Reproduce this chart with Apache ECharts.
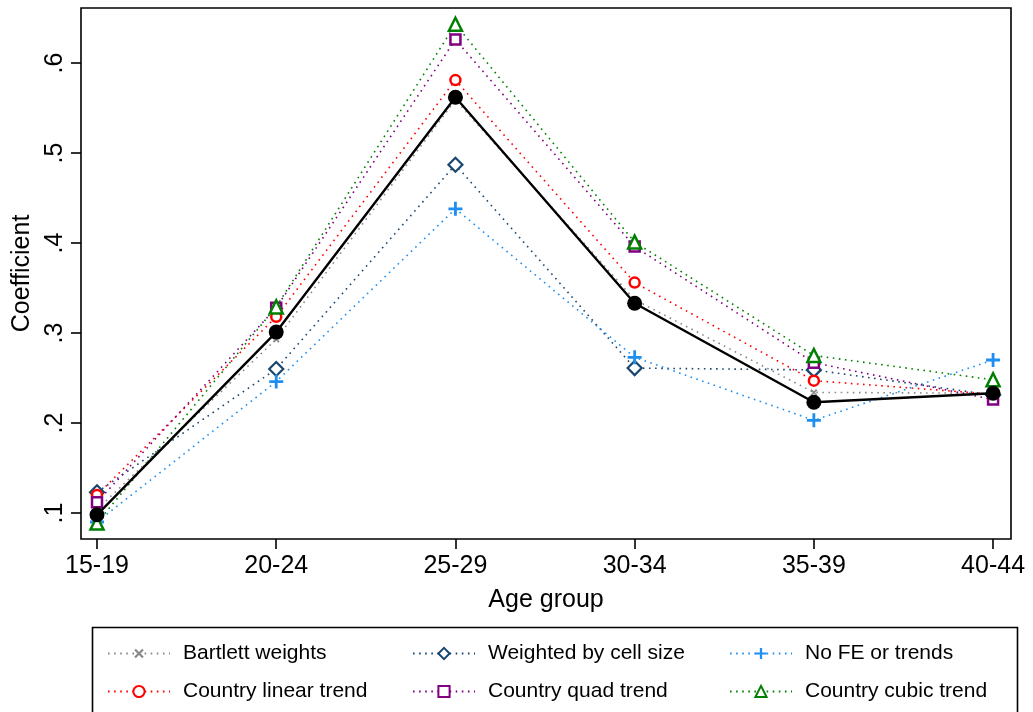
<!DOCTYPE html>
<html>
<head>
<meta charset="utf-8">
<script src="https://cdn.jsdelivr.net/npm/echarts@6/dist/echarts.min.js"></script>
<style>
html,body{margin:0;padding:0;background:#fff;}
#chart{width:1033px;height:712px;}
</style>
</head>
<body>
<div id="chart"></div>
<script>
// ---- data ----
var categories = ['15-19', '20-24', '25-29', '30-34', '35-39', '40-44'];
var yTicks = [0.1, 0.2, 0.3, 0.4, 0.5, 0.6];
var mainSpec     = [0.098, 0.301, 0.562, 0.333, 0.223, 0.233];
var bartlett     = [0.104, 0.293, 0.559, 0.337, 0.234, 0.233];
var weighted     = [0.123, 0.260, 0.487, 0.261, 0.259, 0.231];
var noFE         = [0.090, 0.246, 0.438, 0.273, 0.203, 0.270];
var linearTrend  = [0.120, 0.318, 0.581, 0.356, 0.247, 0.232];
var quadTrend    = [0.112, 0.328, 0.626, 0.396, 0.267, 0.226];
var cubicTrend   = [0.089, 0.329, 0.643, 0.401, 0.275, 0.248];

var FONT = '"Liberation Sans", Arial, Helvetica, sans-serif';
var plusPath = 'path://M4,0 H6 V4 H10 V6 H6 V10 H4 V6 H0 V4 H4 Z';

function pairs(arr) { return arr.map(function (v, i) { return [i, v]; }); }

function dotted(name, data, color, symbol, size, opts) {
  opts = opts || {};
  var hollow = opts.filled ? false : true;
  return {
    name: name, type: 'line', data: pairs(data),
    symbol: symbol, symbolSize: size, symbolRotate: opts.rotate || 0,
    showSymbol: true,
    lineStyle: { color: color, width: 1.6, type: [1.6, 4.5] },
    itemStyle: hollow ? { color: '#fff', borderColor: color, borderWidth: opts.bw || 2.2 }
                      : { color: color, borderWidth: 0 },
    emphasis: { disabled: true },
    animation: false,
    z: 2
  };
}

var series = [
  dotted('Bartlett weights', bartlett, '#8a8a8a', plusPath, 8, { filled: true, rotate: 45 }),
  dotted('Weighted by cell size', weighted, '#1a476f', 'diamond', 14),
  dotted('No FE or trends', noFE, '#1f8ef1', plusPath, 14, { filled: true }),
  dotted('Country linear trend', linearTrend, '#ff0000', 'circle', 10, { bw: 2.5 }),
  dotted('Country quad trend', quadTrend, '#800080', 'rect', 10, { bw: 2.5 }),
  dotted('Country cubic trend', cubicTrend, '#008000', 'triangle', 13, { bw: 2.5 }),
  {
    name: 'Main', type: 'line', data: pairs(mainSpec),
    symbol: 'circle', symbolSize: 15, showSymbol: true,
    lineStyle: { color: '#000', width: 2.4, type: 'solid' },
    itemStyle: { color: '#000', borderWidth: 0 },
    emphasis: { disabled: true }, animation: false, z: 3
  }
];

function legendCol(left, names) {
  return {
    orient: 'vertical', left: left, top: 638,
    data: names, itemWidth: 62, itemHeight: 14, itemGap: 17,
    selectedMode: false,
    textStyle: { fontFamily: FONT, fontSize: 21, color: '#000', lineHeight: 21, padding: [0, 0, 0, 8] }
  };
}

var chart = echarts.init(document.getElementById('chart'), null, { renderer: 'canvas' });
chart.setOption({
  backgroundColor: '#fff',
  animation: false,
  grid: { left: 81, right: 22, top: 8, bottom: 173, show: true, borderColor: '#000', borderWidth: 1.6,
          containLabel: false, outerBoundsMode: 'none' },
  xAxis: {
    type: 'value', min: -0.0893, max: 5.1,
    name: 'Age group', nameLocation: 'middle', nameGap: 49,
    nameTextStyle: { fontFamily: FONT, fontSize: 25, color: '#000' },
    axisLine: { show: false, onZero: false },
    axisTick: { show: true, length: 10, lineStyle: { color: '#000', width: 1.6 }, customValues: categories.map(function (c, i) { return i; }) },
    axisLabel: { fontFamily: FONT, fontSize: 25, color: '#000', margin: 15,
      customValues: categories.map(function (c, i) { return i; }),
      formatter: function (v) { return categories[Math.round(v)]; } },
    splitLine: { show: false }
  },
  yAxis: {
    type: 'value', min: 0.0711, max: 0.6611,
    name: 'Coefficient', nameLocation: 'middle', nameGap: 30, nameRotate: 90,
    nameTextStyle: { fontFamily: FONT, fontSize: 25, color: '#000' },
    axisLine: { show: false, onZero: false },
    axisTick: { show: true, length: 10, lineStyle: { color: '#000', width: 1.6 }, customValues: yTicks },
    axisLabel: { fontFamily: FONT, fontSize: 25, color: '#000', rotate: 90, margin: 13,
      customValues: yTicks,
      formatter: function (v) { return '.' + Math.round(v * 10); } },
    splitLine: { show: false }
  },
  legend: [
    legendCol(102, ['Bartlett weights', 'Country linear trend']),
    legendCol(407, ['Weighted by cell size', 'Country quad trend']),
    legendCol(724, ['No FE or trends', 'Country cubic trend'])
  ],
  graphic: [{
    type: 'rect', left: 90, top: 625, silent: true,
    shape: { x: 0, y: 0, width: 925, height: 100 },
    style: { fill: 'none', stroke: '#000', lineWidth: 1.6 }
  }],
  series: series
});
</script>
</body>
</html>
